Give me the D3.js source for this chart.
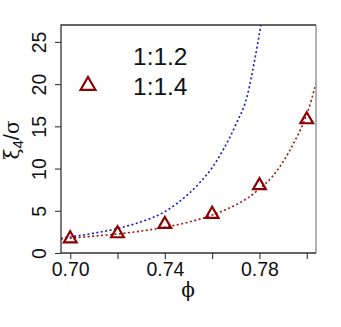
<!DOCTYPE html>
<html>
<head>
<meta charset="utf-8">
<script src="https://cdn.jsdelivr.net/npm/d3@7"></script>
<style>
  body { margin: 0; background: #fff; }
  text { font-family: "Liberation Sans", Arial, sans-serif; }
</style>
</head>
<body>
<div id="chart"></div>
<script>
// measured points (1:1.4)
var phi_pts = [0.70, 0.72, 0.74, 0.76, 0.78, 0.80];
var xi_pts = [1.7, 2.3, 3.4, 4.6, 8.0, 15.8];

// fit curves
var phi_blue = [0.696, 0.70, 0.71, 0.72, 0.73, 0.74, 0.75, 0.755, 0.76, 0.765, 0.77, 0.775, 0.778, 0.7806];
var xi_blue = [1.75, 1.9, 2.35, 2.9, 3.7, 4.9, 7.0, 8.4, 10.1, 12.4, 15.2, 18.8, 22.9, 27];
var phi_red = [0.696, 0.70, 0.71, 0.72, 0.73, 0.74, 0.75, 0.76, 0.77, 0.775, 0.78, 0.785, 0.79, 0.795, 0.80, 0.8039];
var xi_red = [1.65, 1.75, 2.0, 2.25, 2.6, 3.05, 3.65, 4.5, 5.7, 6.5, 7.6, 8.9, 10.8, 13.3, 16.4, 20.1];

var x_ticks = [0.70, 0.72, 0.74, 0.76, 0.78, 0.80];
var x_labels = [0.70, 0.74, 0.78];
var y_ticks = [0, 5, 10, 15, 20, 25];
var legend_labels = ['1:1.2', '1:1.4'];

var chart_width = 341;
var chart_height = 327;
var pl = 61, pr = 316, pt = 25, pb = 253;

var svg = d3.select('#chart')
  .append('svg')
  .attr('width', chart_width)
  .attr('height', chart_height);

var x_scale = d3.scaleLinear().domain([0.6961, 0.8039]).range([pl, pr]);
var y_scale = d3.scaleLinear().domain([0, 27]).range([pb, pt]);

// clip for the curves
svg.append('clipPath').attr('id', 'clip')
  .append('rect')
  .attr('x', pl).attr('y', pt)
  .attr('width', pr - pl).attr('height', pb - pt);

var line = d3.line()
  .x(function(d) { return x_scale(d[0]); })
  .y(function(d) { return y_scale(d[1]); })
  .curve(d3.curveMonotoneX);

svg.append('path')
  .datum(d3.zip(phi_blue, xi_blue))
  .attr('d', line)
  .attr('clip-path', 'url(#clip)')
  .attr('fill', 'none')
  .attr('stroke', '#1a1ab8')
  .attr('stroke-width', 1.6)
  .attr('stroke-dasharray', '2,2.5');

svg.append('path')
  .datum(d3.zip(phi_red, xi_red))
  .attr('d', line)
  .attr('clip-path', 'url(#clip)')
  .attr('fill', 'none')
  .attr('stroke', '#a01818')
  .attr('stroke-width', 1.6)
  .attr('stroke-dasharray', '2,2.5');

// triangles, centroid on the point
var tri = d3.symbol().type(d3.symbolTriangle).size(70);
svg.selectAll('.pt')
  .data(d3.zip(phi_pts, xi_pts))
  .enter()
  .append('path')
  .attr('class', 'pt')
  .attr('d', tri)
  .attr('transform', function(d) {
    return 'translate(' + x_scale(d[0]) + ',' + y_scale(d[1]) + ')';
  })
  .attr('fill', 'none')
  .attr('stroke', '#8b0000')
  .attr('stroke-width', 2.2);

// box
svg.append('line').attr('x1', pr).attr('x2', pr).attr('y1', pt).attr('y2', pb)
  .attr('stroke', '#9a9a9a').attr('stroke-width', 1.5);
svg.append('path')
  .attr('d', 'M' + pr + ',' + pt + 'H' + pl + 'V' + pb + 'H' + pr)
  .attr('fill', 'none')
  .attr('stroke', '#333')
  .attr('stroke-width', 1.3);

// x axis
var x_axis = d3.axisBottom(x_scale)
  .tickValues(x_ticks)
  .tickSize(6)
  .tickFormat(function(d) {
    return x_labels.some(function(v) { return Math.abs(v - d) < 1e-9; }) ? d3.format('.2f')(d) : '';
  });
var gx = svg.append('g')
  .attr('transform', 'translate(0,' + pb + ')')
  .call(x_axis);
gx.select('.domain').remove();
gx.selectAll('line').attr('stroke', '#333').attr('stroke-width', 1.1);
gx.selectAll('text')
  .style('font-size', '19.5px')
  .style('font-family', '"Liberation Sans", Arial, sans-serif')
  .attr('fill', '#111')
  .attr('y', 22.5)
  .attr('dy', 0);

// y axis, rotated labels
var y_axis = d3.axisLeft(y_scale).tickValues(y_ticks).tickSize(6);
var gy = svg.append('g')
  .attr('transform', 'translate(' + pl + ',0)')
  .call(y_axis);
gy.select('.domain').remove();
gy.selectAll('line').attr('stroke', '#333').attr('stroke-width', 1.1);
gy.selectAll('text')
  .style('font-size', '19.5px')
  .style('font-family', '"Liberation Sans", Arial, sans-serif')
  .attr('fill', '#111')
  .attr('x', 0)
  .attr('dy', 0)
  .attr('text-anchor', 'middle')
  .attr('transform', 'translate(-15.5,0) rotate(-90)');

// axis titles
svg.append('text')
  .attr('x', 188)
  .attr('y', 297)
  .attr('text-anchor', 'middle')
  .style('font-family', '"DejaVu Serif", serif')
  .style('font-size', '20px')
  .attr('fill', '#111')
  .text('\u03d5');

var ylab = svg.append('text')
  .attr('transform', 'translate(19,140) rotate(-90)')
  .attr('text-anchor', 'middle')
  .style('font-size', '20px')
  .attr('fill', '#111');
ylab.append('tspan').style('font-family', '"DejaVu Serif", serif').text('\u03be');
ylab.append('tspan').style('font-size', '15px').attr('dy', 4).text('4');
ylab.append('tspan').attr('dy', -4).style('font-size', '22px').text('/');
ylab.append('tspan').style('font-family', '"DejaVu Serif", serif').text('\u03c3');

// legend
svg.selectAll('.leg')
  .data(legend_labels)
  .enter()
  .append('text')
  .attr('class', 'leg')
  .attr('x', 133)
  .attr('y', function(d, i) { return 65 + i * 30; })
  .style('font-size', '24.5px')
  .attr('fill', '#111')
  .text(function(d) { return d; });

svg.append('path')
  .attr('d', d3.symbol().type(d3.symbolTriangle).size(95))
  .attr('transform', 'translate(88,85.5)')
  .attr('fill', 'none')
  .attr('stroke', '#8b0000')
  .attr('stroke-width', 2.2);
</script>
</body>
</html>
